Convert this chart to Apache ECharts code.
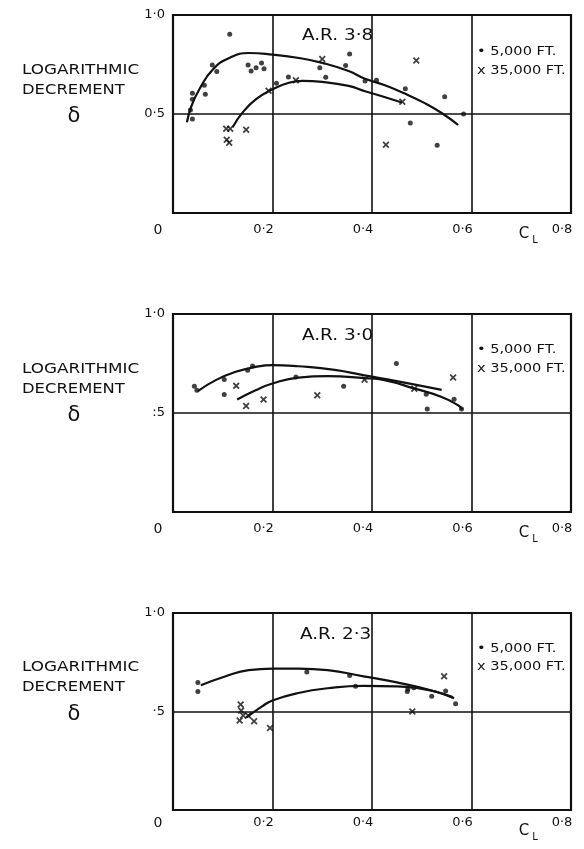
<!DOCTYPE html>
<html><head><meta charset="utf-8">
<script src="https://cdn.jsdelivr.net/npm/echarts@6/dist/echarts.min.js"></script>
<style>html,body{margin:0;padding:0;background:#fff}#c{width:584px;height:849px}</style>
</head><body><div id="c"></div>
<script>
// ---- tick labels / texts ----
const xTickLabels = ['0', '0·2', '0·4', '0·6', '0·8'];
const yTickLabels1 = ['0·5', '1·0'];
const yTickLabels2 = [':5', '1·0'];
const yTickLabels3 = ['·5', '1·0'];
const panelTitles = ['A.R. 3·8', 'A.R. 3·0', 'A.R. 2·3'];
const legendLabels = ['• 5,000 FT.', 'x 35,000 FT.'];
const yAxisName = ['LOGARITHMIC', 'DECREMENT', 'δ'];

// ---- Panel 1 : A.R. 3.8 ----
const p1Dots5k = [[0.035,0.52],[0.039,0.475],[0.039,0.605],[0.039,0.575],[0.063,0.645],[0.065,0.60],[0.079,0.747],[0.088,0.715],[0.114,0.903],[0.151,0.748],[0.157,0.717],[0.167,0.733],[0.178,0.758],[0.183,0.728],[0.208,0.655],[0.232,0.687],[0.295,0.733],[0.307,0.685],[0.347,0.745],[0.355,0.803],[0.386,0.667],[0.409,0.67],[0.467,0.628],[0.546,0.587],[0.477,0.455],[0.531,0.342],[0.584,0.50]];
const p1Cross35k = [[0.107,0.425],[0.115,0.425],[0.108,0.37],[0.113,0.355],[0.147,0.42],[0.192,0.617],[0.247,0.67],[0.30,0.778],[0.489,0.77],[0.461,0.562],[0.428,0.345]];
const p1Curve5k = [[0.028,0.458],[0.037,0.54],[0.053,0.625],[0.08,0.725],[0.113,0.783],[0.153,0.808],[0.2,0.80],[0.253,0.783],[0.30,0.758],[0.353,0.717],[0.386,0.678],[0.426,0.645],[0.466,0.603],[0.506,0.555],[0.54,0.505],[0.573,0.445]];
const p1Curve35k = [[0.12,0.433],[0.14,0.508],[0.167,0.575],[0.2,0.625],[0.233,0.658],[0.26,0.667],[0.30,0.662],[0.353,0.642],[0.386,0.615],[0.42,0.59],[0.46,0.558]];

// ---- Panel 2 : A.R. 3.0 ----
const p2Dots5k = [[0.043,0.635],[0.048,0.615],[0.103,0.669],[0.103,0.593],[0.150,0.716],[0.160,0.738],[0.247,0.682],[0.343,0.635],[0.449,0.75],[0.509,0.595],[0.511,0.52],[0.565,0.569],[0.580,0.52]];
const p2Cross35k = [[0.127,0.637],[0.147,0.535],[0.182,0.568],[0.29,0.59],[0.385,0.668],[0.485,0.623],[0.563,0.679]];
const p2Curve5k = [[0.05,0.611],[0.086,0.666],[0.126,0.708],[0.166,0.733],[0.2,0.742],[0.252,0.736],[0.325,0.718],[0.385,0.69],[0.452,0.66],[0.54,0.617]];
const p2Curve35k = [[0.129,0.568],[0.166,0.615],[0.2,0.649],[0.252,0.679],[0.311,0.686],[0.385,0.676],[0.425,0.666],[0.486,0.623],[0.54,0.581],[0.573,0.539],[0.581,0.519]];

// ---- Panel 3 : A.R. 2.3 ----
const p3Dots5k = [[0.05,0.647],[0.05,0.602],[0.269,0.701],[0.355,0.683],[0.367,0.628],[0.471,0.602],[0.472,0.614],[0.484,0.621],[0.52,0.578],[0.548,0.604],[0.568,0.539]];
const p3Cross35k = [[0.136,0.536],[0.137,0.505],[0.134,0.454],[0.141,0.48],[0.151,0.48],[0.163,0.451],[0.195,0.416],[0.545,0.679],[0.481,0.50]];
const p3Curve5k = [[0.056,0.633],[0.106,0.679],[0.152,0.71],[0.2,0.718],[0.252,0.718],[0.311,0.71],[0.383,0.678],[0.45,0.648],[0.518,0.608],[0.565,0.568]];
const p3Curve35k = [[0.148,0.47],[0.179,0.526],[0.2,0.556],[0.252,0.594],[0.311,0.618],[0.383,0.63],[0.45,0.628],[0.498,0.616],[0.531,0.599],[0.562,0.573]];

const INK = '#111';
const FONT = 'DejaVu Sans';
const CROSS = 'path://M0,1.8L1.8,0L5,3.2L8.2,0L10,1.8L6.8,5L10,8.2L8.2,10L5,6.8L1.8,10L0,8.2L3.2,5Z';

const panels = [
  {top: 15,  h: 198, dots: p1Dots5k, cross: p1Cross35k, c5: p1Curve5k, c35: p1Curve35k, yl: yTickLabels1, title: panelTitles[0], xm: 10, tx: 302, ty: 36, ly: [52, 71]},
  {top: 314, h: 198, dots: p2Dots5k, cross: p2Cross35k, c5: p2Curve5k, c35: p2Curve35k, yl: yTickLabels2, title: panelTitles[1], xm: 10, tx: 302, ty: 336, ly: [350, 369]},
  {top: 613, h: 197, dots: p3Dots5k, cross: p3Cross35k, c5: p3Curve5k, c35: p3Curve35k, yl: yTickLabels3, title: panelTitles[2], xm: 6, tx: 300, ty: 635, ly: [649, 667]}
];

const grid = [], xAxis = [], yAxis = [], series = [], graphic = [];
panels.forEach((p, i) => {
  grid.push({left: 173, top: p.top, width: 398, height: p.h, show: true, borderColor: INK, borderWidth: 2.2, backgroundColor: 'transparent'});
  xAxis.push({
    type: 'value', gridIndex: i, min: 0, max: 0.8, interval: 0.2,
    axisLine: {show: false}, axisTick: {show: false},
    splitLine: {show: true, lineStyle: {color: INK, width: 1.6}},
    axisLabel: {
      show: true, margin: p.xm, color: INK, fontFamily: FONT, fontSize: 13,
      formatter: v => { const k = Math.round(v / 0.2); return k === 0 ? '{o|' + xTickLabels[0] + '}' : '{n|' + xTickLabels[k] + '}'; },
      rich: {o: {padding: [0, 30, 0, 0], fontFamily: FONT, fontSize: 14, color: INK}, n: {padding: [0, 18, 0, 0], fontFamily: FONT, fontSize: 13, color: INK}}
    }
  });
  yAxis.push({
    type: 'value', gridIndex: i, min: 0, max: 1, interval: 0.5,
    axisLine: {show: false}, axisTick: {show: false},
    splitLine: {show: true, lineStyle: {color: INK, width: 1.6}},
    axisLabel: {margin: 8, color: INK, fontFamily: FONT, fontSize: 13,
      formatter: v => v === 1 ? p.yl[1] : (Math.abs(v - 0.5) < 1e-9 ? p.yl[0] : '')}
  });
  series.push({type: 'line', xAxisIndex: i, yAxisIndex: i, data: p.c5, smooth: 0.5, showSymbol: false, lineStyle: {color: INK, width: 2.2}, silent: true});
  series.push({type: 'line', xAxisIndex: i, yAxisIndex: i, data: p.c35, smooth: 0.5, showSymbol: false, lineStyle: {color: INK, width: 2.2}, silent: true});
  series.push({type: 'scatter', xAxisIndex: i, yAxisIndex: i, data: p.dots, symbol: 'circle', symbolSize: 5, itemStyle: {color: INK}});
  series.push({type: 'scatter', xAxisIndex: i, yAxisIndex: i, data: p.cross, symbol: CROSS, symbolSize: 7, itemStyle: {color: INK}});

  const mid = p.top + p.h / 2;
  graphic.push({type: 'text', x: p.tx, y: p.ty, scaleX: 1.15, style: {text: p.title, x: 0, y: 0, font: '16px ' + FONT, fill: INK, verticalAlign: 'middle', textVerticalAlign: 'middle'}});
  legendLabels.forEach((t, j) => {
    graphic.push({type: 'text', x: 477, y: p.ly[j], scaleX: 1.12, style: {text: t, x: 0, y: 0, font: '13px ' + FONT, fill: INK, verticalAlign: 'middle', textVerticalAlign: 'middle'}});
  });
  graphic.push({type: 'text', x: 22, y: mid - 44, scaleX: 1.2, style: {text: yAxisName[0], x: 0, y: 0, font: '14px ' + FONT, fill: INK, verticalAlign: 'middle', textVerticalAlign: 'middle'}});
  graphic.push({type: 'text', x: 22, y: mid - 24, scaleX: 1.17, style: {text: yAxisName[1], x: 0, y: 0, font: '14px ' + FONT, fill: INK, verticalAlign: 'middle', textVerticalAlign: 'middle'}});
  graphic.push({type: 'text', x: 74, y: mid + 3, style: {text: yAxisName[2], x: 0, y: 0, font: '21px ' + FONT, fill: INK, align: 'center', textAlign: 'center', verticalAlign: 'middle', textVerticalAlign: 'middle'}});
  const bot = p.top + p.h;
  graphic.push({type: 'text', x: 524, y: bot + 21, style: {text: 'C', x: 0, y: 0, font: '15px ' + FONT, fill: INK, align: 'center', textAlign: 'center', verticalAlign: 'middle', textVerticalAlign: 'middle'}});
  graphic.push({type: 'text', x: 535, y: bot + 27, style: {text: 'L', x: 0, y: 0, font: '10px ' + FONT, fill: INK, align: 'center', textAlign: 'center', verticalAlign: 'middle', textVerticalAlign: 'middle'}});
});

const chart = echarts.init(document.getElementById('c'), null, {renderer: 'canvas'});
chart.setOption({animation: false, backgroundColor: '#fff', grid, xAxis, yAxis, series, graphic});
</script>
</body></html>
